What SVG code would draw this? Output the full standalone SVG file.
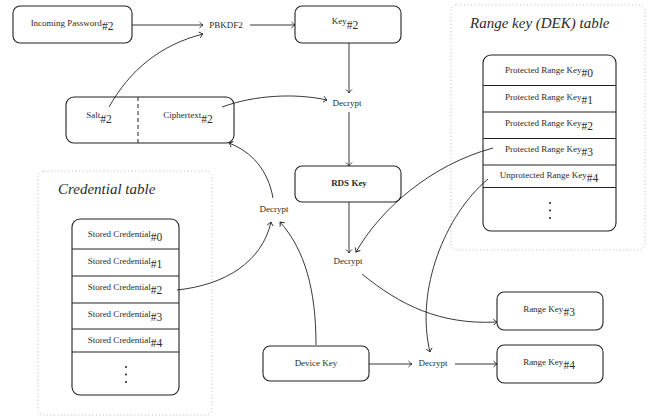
<svg xmlns="http://www.w3.org/2000/svg" width="648" height="417" viewBox="0 0 648 417">
<style>
.box{fill:#fff;stroke:#222;stroke-width:1.1}
.row{stroke:#222;stroke-width:1}
.grp{fill:none;stroke:#aaa;stroke-width:0.9;stroke-dasharray:0.9 2.6}
.t{font-family:"Liberation Serif","Times New Roman",serif;font-size:9px;fill:#2a2a2a;text-anchor:middle;opacity:0.99}
.s{font-size:11.5px}
.b{font-weight:bold}
.title{font-family:"Liberation Serif","Times New Roman",serif;font-size:15px;font-style:italic;fill:#2a2a2a;opacity:0.99}
.c{fill:none;stroke:#222;stroke-width:0.9;marker-end:url(#ah)}
.dot{fill:#222}
</style>
<defs>
<marker id="ah" viewBox="-5 -4 6 8" markerWidth="6" markerHeight="8" refX="0" refY="0" orient="auto" markerUnits="userSpaceOnUse">
<path d="M-3.5,-3 Q-1.5,-0.8 0,0 Q-1.5,0.8 -3.5,3" fill="none" stroke="#222" stroke-width="0.9"/>
</marker>
</defs>

<g id="range-table-group">
<rect class="grp" x="451" y="5" width="194" height="245" rx="6"/>
<text class="title" x="470" y="28">Range key (DEK) table</text>
</g>
<g id="credential-table-group">
<rect class="grp" x="38" y="171" width="174" height="244" rx="6"/>
<text class="title" x="58" y="194">Credential table</text>
</g>

<g id="incoming-password">
<rect class="box" x="13" y="6" width="119" height="37" rx="7"/>
<text class="t" x="72" y="26">Incoming Password<tspan class="s" dy="4">#2</tspan></text>
</g>
<g id="pbkdf2">
<text class="t" x="226" y="28">PBKDF2</text>
</g>
<g id="key2">
<rect class="box" x="295" y="6" width="106" height="37" rx="7"/>
<text class="t" x="345" y="24">Key<tspan class="s" dy="4.5">#2</tspan></text>
</g>
<g id="salt-ciphertext">
<rect class="box" x="66" y="97" width="168" height="46" rx="8"/>
<line x1="138" y1="97" x2="138" y2="143" stroke="#222" stroke-width="1" stroke-dasharray="4 3"/>
<text class="t" x="99" y="118">Salt<tspan class="s" dy="4.5">#2</tspan></text>
<text class="t" x="188" y="118">Ciphertext<tspan class="s" dy="4.5">#2</tspan></text>
</g>
<g id="decrypt-top">
<text class="t" x="347" y="106">Decrypt</text>
</g>
<g id="rds-key">
<rect class="box" x="295" y="166" width="106" height="36" rx="7"/>
<text class="t b" x="349" y="186">RDS Key</text>
</g>
<g id="decrypt-mid-left">
<text class="t" x="274" y="212">Decrypt</text>
</g>
<g id="decrypt-mid">
<text class="t" x="348" y="264">Decrypt</text>
</g>
<g id="range-key-table">
<rect class="box" x="483" y="55" width="133" height="176" rx="8"/>
<line class="row" x1="483" y1="85.5" x2="616" y2="85.5"/>
<line class="row" x1="483" y1="112" x2="616" y2="112"/>
<line class="row" x1="483" y1="138.5" x2="616" y2="138.5"/>
<line class="row" x1="483" y1="165" x2="616" y2="165"/>
<line class="row" x1="483" y1="187.5" x2="616" y2="187.5"/>
<text class="t" x="549" y="73">Protected Range Key<tspan class="s" dy="4">#0</tspan></text>
<text class="t" x="549" y="100">Protected Range Key<tspan class="s" dy="4">#1</tspan></text>
<text class="t" x="549" y="126">Protected Range Key<tspan class="s" dy="4">#2</tspan></text>
<text class="t" x="549" y="152">Protected Range Key<tspan class="s" dy="4">#3</tspan></text>
<text class="t" x="549" y="178">Unprotected Range Key<tspan class="s" dy="4">#4</tspan></text>
<circle class="dot" cx="550" cy="203" r="1"/>
<circle class="dot" cx="550" cy="210.5" r="1"/>
<circle class="dot" cx="550" cy="218" r="1"/>
</g>
<g id="credential-table">
<rect class="box" x="72" y="219" width="107" height="176" rx="8"/>
<line class="row" x1="72" y1="249" x2="179" y2="249"/>
<line class="row" x1="72" y1="276" x2="179" y2="276"/>
<line class="row" x1="72" y1="303" x2="179" y2="303"/>
<line class="row" x1="72" y1="329" x2="179" y2="329"/>
<line class="row" x1="72" y1="352" x2="179" y2="352"/>
<text class="t" x="125" y="237">Stored Credential<tspan class="s" dy="4">#0</tspan></text>
<text class="t" x="125" y="264">Stored Credential<tspan class="s" dy="4">#1</tspan></text>
<text class="t" x="125" y="290">Stored Credential<tspan class="s" dy="4">#2</tspan></text>
<text class="t" x="125" y="317">Stored Credential<tspan class="s" dy="4">#3</tspan></text>
<text class="t" x="125" y="343">Stored Credential<tspan class="s" dy="4">#4</tspan></text>
<circle class="dot" cx="126" cy="367" r="1"/>
<circle class="dot" cx="126" cy="374.5" r="1"/>
<circle class="dot" cx="126" cy="382" r="1"/>
</g>
<g id="range-key3">
<rect class="box" x="497" y="292" width="106" height="38" rx="7"/>
<text class="t" x="549" y="312">Range Key<tspan class="s" dy="4">#3</tspan></text>
</g>
<g id="range-key4">
<rect class="box" x="497" y="345" width="106" height="38" rx="7"/>
<text class="t" x="549" y="365">Range Key<tspan class="s" dy="4">#4</tspan></text>
</g>
<g id="device-key">
<rect class="box" x="263" y="346" width="106" height="35" rx="7"/>
<text class="t" x="316" y="366">Device Key</text>
</g>
<g id="decrypt-bottom">
<text class="t" x="433" y="366">Decrypt</text>
</g>

<g id="connectors">
<path class="c" d="M132,25 H203"/>
<path class="c" d="M250,25 H295"/>
<path class="c" d="M109,107 C130,70 160,45 203,34"/>
<path class="c" d="M222,107 C255,95 295,93 327,100"/>
<path class="c" d="M349,43 V93"/>
<path class="c" d="M349,112 V166"/>
<path class="c" d="M349,202 V253"/>
<path class="c" d="M493,148 C430,165 380,210 356,252"/>
<path class="c" d="M362,274 C400,305 440,325 497,322"/>
<path class="c" d="M488,179 C445,215 415,290 430,352"/>
<path class="c" d="M369,364 H412"/>
<path class="c" d="M455,364 H497"/>
<path class="c" d="M316,345 C316,290 305,250 280,222"/>
<path class="c" d="M177,290 C225,285 262,262 271,222"/>
<path class="c" d="M273,198 C268,170 252,152 229,143"/>
</g>
</svg>
